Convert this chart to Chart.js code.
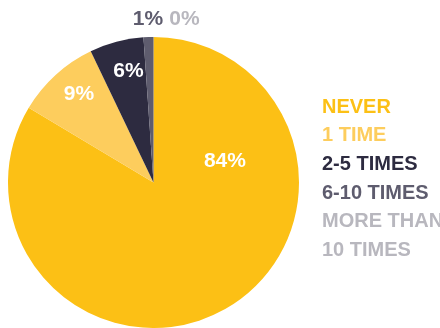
<!DOCTYPE html>
<html>
<head>
<meta charset="utf-8">
<script src="https://cdn.jsdelivr.net/npm/chart.js@4"></script>
<style>
  html, body { margin: 0; padding: 0; background: #fff; }
  #wrap { width: 440px; height: 328px; position: relative; }
</style>
</head>
<body>
<div id="wrap"><canvas id="chart" width="440" height="328"></canvas></div>
<script>
// data
const categories = ['NEVER', '1 TIME', '2-5 TIMES', '6-10 TIMES', 'MORE THAN 10 TIMES'];
const legendLines = [['NEVER'], ['1 TIME'], ['2-5 TIMES'], ['6-10 TIMES'], ['MORE THAN', '10 TIMES']];
const shares = [83.6, 9.3, 6.0, 1.1, 0];
const shareLabels = ['84%', '9%', '6%', '1%', '0%'];

const colors = ['#FCC015', '#FDCD5D', '#2D2B40', '#5E5C6E', '#B8B7BE'];
const labelColors = ['#fff', '#fff', '#fff', '#5E5C6E', '#B8B7BE'];
// label spots, in units of radius from the pie center
const labelSpots = [[0.491, -0.148], [-0.512, -0.608], [-0.172, -0.766], [-0.038, -1.12], [0.213, -1.12]];

const font = 'bold 20px "Liberation Sans", Arial, sans-serif';

const labelsPlugin = {
  id: 'pctLabels',
  afterDatasetsDraw(chart) {
    const arc = chart.getDatasetMeta(0).data[0];
    const ctx = chart.ctx;
    ctx.save();
    ctx.font = 'bold 21px "Liberation Sans", Arial, sans-serif';
    ctx.textAlign = 'center';
    ctx.textBaseline = 'middle';
    shareLabels.forEach((t, i) => {
      ctx.fillStyle = labelColors[i];
      ctx.fillText(t, arc.x + labelSpots[i][0] * arc.outerRadius, arc.y + labelSpots[i][1] * arc.outerRadius);
    });

    // legend on the right
    ctx.font = font;
    ctx.textAlign = 'left';
    let y = 107;
    legendLines.forEach((lines, i) => {
      ctx.fillStyle = colors[i];
      lines.forEach(l => {
        ctx.fillText(l, 322, y);
        y += 28.7;
      });
    });
    ctx.restore();
  }
};

new Chart(document.getElementById('chart'), {
  type: 'pie',
  data: {
    labels: categories,
    datasets: [{
      data: shares,
      backgroundColor: colors,
      borderWidth: 0
    }]
  },
  options: {
    responsive: false,
    animation: false,
    layout: { padding: { left: 7, right: 140, top: 37, bottom: 0 } },
    plugins: {
      legend: { display: false },
      tooltip: { enabled: false }
    }
  },
  plugins: [labelsPlugin]
});
</script>
</body>
</html>
